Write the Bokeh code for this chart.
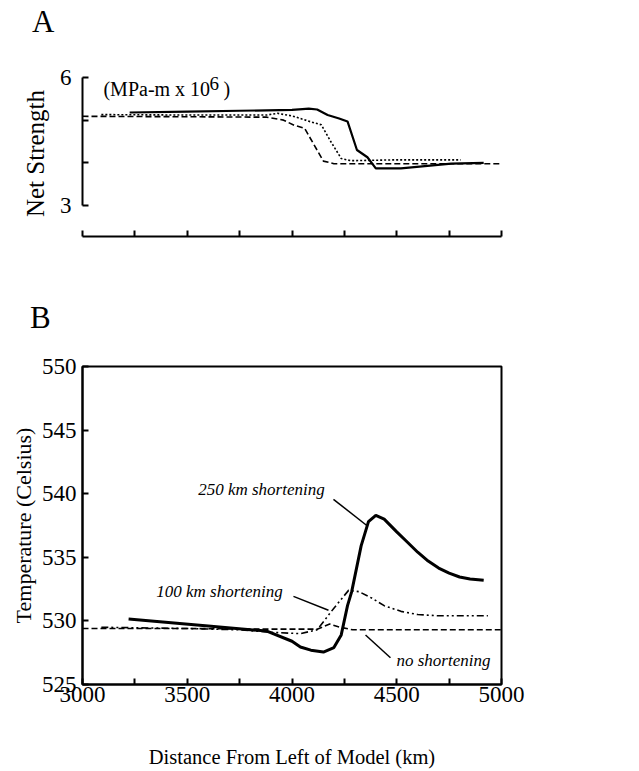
from bokeh.plotting import figure
from bokeh.models import Range1d, FixedTicker, Label, Div
from bokeh.layouts import column
from bokeh.embed import file_html
from bokeh.resources import INLINE

# ---------------- data ----------------
# Panel A: net strength (MPa-m x 10^6) vs distance (km)
dist_A_250 = [3225, 3500, 3750, 4000, 4050, 4080, 4120, 4170, 4225, 4265, 4310, 4360, 4400, 4520, 4760, 4915]
str_A_250 = [5.18, 5.20, 5.22, 5.24, 5.26, 5.27, 5.25, 5.12, 5.04, 4.97, 4.30, 4.13, 3.87, 3.87, 3.98, 4.00]

dist_A_100 = [3090, 3500, 3880, 3930, 4000, 4040, 4090, 4140, 4185, 4235, 4280, 4500, 4805]
str_A_100 = [5.13, 5.12, 5.12, 5.16, 5.10, 5.04, 4.96, 4.89, 4.50, 4.10, 4.05, 4.07, 4.07]

dist_A_0 = [3000, 3500, 3880, 3960, 4010, 4060, 4150, 4200, 5000]
str_A_0 = [5.09, 5.08, 5.07, 5.00, 4.88, 4.81, 4.04, 3.98, 3.98]

# Panel B: temperature (Celsius) vs distance (km)
dist_B_250 = [3220, 3600, 3880, 4000, 4040, 4090, 4150, 4200, 4235, 4265, 4285, 4330, 4365, 4400,
              4440, 4500, 4550, 4600, 4650, 4700, 4750, 4800, 4850, 4915]
temp_B_250 = [530.15, 529.6, 529.2, 528.4, 527.95, 527.7, 527.55, 527.9, 528.9, 531.2, 532.3, 535.9, 537.8, 538.3,
              538.0, 537.0, 536.2, 535.4, 534.7, 534.15, 533.75, 533.45, 533.3, 533.2]

dist_B_100 = [3090, 3500, 3750, 3900, 4040, 4120, 4200, 4270, 4320, 4380, 4440, 4520, 4600, 4700, 4935]
temp_B_100 = [529.5, 529.4, 529.3, 529.1, 529.0, 529.3, 531.0, 532.4, 532.3, 531.8, 531.2, 530.75, 530.5, 530.4, 530.4]

dist_B_0 = [3000, 3500, 3900, 4120, 4180, 4230, 4290, 5000]
temp_B_0 = [529.4, 529.4, 529.35, 529.35, 529.75, 529.5, 529.3, 529.3]

x_major = [3000, 3500, 4000, 4500, 5000]
x_minor = [3250, 3750, 4250, 4750]
x_all = [3000, 3250, 3500, 3750, 4000, 4250, 4500, 4750, 5000]
a_y_major = [3, 6]
a_y_minor = [4, 5]
b_y_ticks = [525, 530, 535, 540, 545, 550]

labels_B = ["250 km shortening", "100 km shortening", "no shortening"]
panel_letters = ["A", "B"]

# ---------------- styling ----------------
FONT = "Liberation Serif"
W = 630
FL, FR = 82, 501  # frame left / right in pixels


def style_axis(ax, size="23px"):
    ax.axis_line_width = 2
    ax.axis_line_color = "black"
    ax.major_tick_in = 6
    ax.major_tick_out = 0
    ax.minor_tick_in = 6
    ax.minor_tick_out = 0
    ax.major_tick_line_width = 2
    ax.minor_tick_line_width = 2
    ax.minor_tick_line_color = "black"
    ax.major_label_text_font = FONT
    ax.major_label_text_font_size = size
    ax.major_label_text_color = "black"
    ax.axis_label_text_font = FONT
    ax.axis_label_text_font_style = "normal"
    ax.axis_label_text_color = "black"


def letter_div(letter, height, pad_top, pad_left):
    html = ('<div style="font-family:\'Liberation Serif\';font-size:31px;line-height:31px;'
            'color:black;padding:%dpx 0 0 %dpx;margin:0;">%s</div>' % (pad_top, pad_left, letter))
    return Div(text=html, width=W, height=height, margin=0)


# ---------------- panel A ----------------
divA = letter_div(panel_letters[0], 40, 6, 32)

pA = figure(width=W, height=233, output_backend="svg", toolbar_location=None,
            x_range=Range1d(3000, 5000), y_range=Range1d(2.273, 6.164),
            min_border_left=FL, min_border_right=W - FR, min_border_top=30,
            min_border_bottom=37)
pA.outline_line_color = None
pA.xgrid.visible = False
pA.ygrid.visible = False

pA.line(dist_A_250, str_A_250, line_color="black", line_width=2.2)
pA.line(dist_A_100, str_A_100, line_color="black", line_width=1.6, line_dash="2 2")
pA.line(dist_A_0, str_A_0, line_color="black", line_width=1.6, line_dash="6 3")

xa = pA.xaxis[0]
style_axis(xa)
xa.ticker = FixedTicker(ticks=[], minor_ticks=x_all)
xa.major_label_standoff = 0

ya = pA.yaxis[0]
style_axis(ya)
ya.ticker = FixedTicker(ticks=a_y_major, minor_ticks=a_y_minor)
ya.bounds = (3, 6)
ya.major_label_standoff = 11
ya.axis_label = "Net Strength"
ya.axis_label_text_font_size = "25px"
ya.axis_label_standoff = 8

pA.add_layout(Label(x=3100, y=5.74, text="(MPa-m x 10", text_font=FONT, text_font_size="20px",
                    text_align="left", text_baseline="middle", text_color="black"))
pA.add_layout(Label(x=3606, y=5.87, text="6", text_font=FONT, text_font_size="19px",
                    text_align="left", text_baseline="middle", text_color="black"))
pA.add_layout(Label(x=3673, y=5.74, text=")", text_font=FONT, text_font_size="20px",
                    text_align="left", text_baseline="middle", text_color="black"))

# ---------------- panel B ----------------
divB = letter_div(panel_letters[1], 67, 29, 30)

pB = figure(width=W, height=430, output_backend="svg", toolbar_location=None,
            x_range=Range1d(3000, 5000), y_range=Range1d(525, 550),
            min_border_left=FL, min_border_right=W - FR, min_border_top=26,
            min_border_bottom=83)
pB.outline_line_color = "black"
pB.outline_line_width = 2
pB.xgrid.visible = False
pB.ygrid.visible = False

pB.line(dist_B_250, temp_B_250, line_color="black", line_width=3)
pB.line(dist_B_100, temp_B_100, line_color="black", line_width=1.6, line_dash="7 3 2 3 2 3")
pB.line(dist_B_0, temp_B_0, line_color="black", line_width=1.6, line_dash="6 3")

xb = pB.xaxis[0]
style_axis(xb)
xb.ticker = FixedTicker(ticks=x_major, minor_ticks=x_minor)
xb.major_label_standoff = 2
xb.axis_label = "Distance From Left of Model (km)"
xb.axis_label_text_font_size = "20.5px"
xb.axis_label_standoff = 41

yb = pB.yaxis[0]
style_axis(yb)
yb.ticker = FixedTicker(ticks=b_y_ticks)
yb.major_label_standoff = 6
yb.axis_label = "Temperature (Celsius)"
yb.axis_label_text_font_size = "22px"
yb.axis_label_standoff = 3

# annotation positions (data coords)
ann_x = [3854, 3654, 4723]
ann_y = [540.34, 532.32, 526.87]
lead_x0 = [4198, 4007, 4351]
lead_y0 = [539.56, 531.93, 528.89]
lead_x1 = [4360, 4174, 4470]
lead_y1 = [537.46, 530.84, 527.1]

pB.segment(lead_x0, lead_y0, lead_x1, lead_y1, line_color="black", line_width=1.5)
for t, ax_, ay_ in zip(labels_B, ann_x, ann_y):
    pB.add_layout(Label(x=ax_, y=ay_, text=t, text_font=FONT, text_font_size="17px",
                        text_font_style="italic", text_align="center",
                        text_baseline="middle", text_color="black"))

layout = column(divA, pA, divB, pB, spacing=0)
open("out.html", "w").write(file_html(layout, INLINE))
